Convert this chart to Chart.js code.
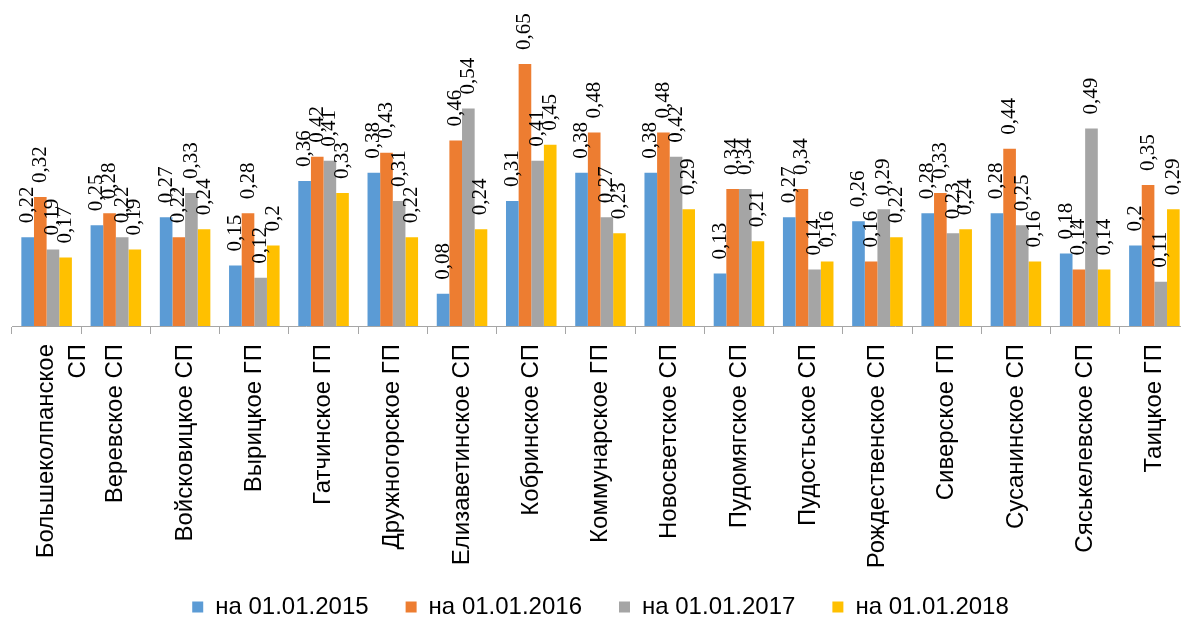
<!DOCTYPE html>
<html>
<head>
<meta charset="utf-8">
<script src="https://cdn.jsdelivr.net/npm/chart.js@4/dist/chart.umd.min.js"></script>
<style>
html,body{margin:0;padding:0;overflow:hidden;background:#ffffff;}
#wrap{position:relative;width:1200px;height:629px;}
</style>
</head>
<body>
<div id="wrap"><canvas id="c"></canvas></div>
<script>
const categories = [
  ["Большеколпанское", "СП"], "Веревское СП", "Войсковицкое СП", "Вырицкое ГП",
  "Гатчинское ГП", "Дружногорское ГП", "Елизаветинское СП", "Кобринское СП",
  "Коммунарское ГП", "Новосветское СП", "Пудомягское СП", "Пудостьское СП",
  "Рождественское СП", "Сиверское ГП", "Сусанинское СП", "Сяськелевское СП", "Таицкое ГП"
];
const seriesNames = ["на 01.01.2015", "на 01.01.2016", "на 01.01.2017", "на 01.01.2018"];
const values2015 = [0.22, 0.25, 0.27, 0.15, 0.36, 0.38, 0.08, 0.31, 0.38, 0.38, 0.13, 0.27, 0.26, 0.28, 0.28, 0.18, 0.2];
const values2016 = [0.32, 0.28, 0.22, 0.28, 0.42, 0.43, 0.46, 0.65, 0.48, 0.48, 0.34, 0.34, 0.16, 0.33, 0.44, 0.14, 0.35];
const values2017 = [0.19, 0.22, 0.33, 0.12, 0.41, 0.31, 0.54, 0.41, 0.27, 0.42, 0.34, 0.14, 0.29, 0.23, 0.25, 0.49, 0.11];
const values2018 = [0.17, 0.19, 0.24, 0.2, 0.33, 0.22, 0.24, 0.45, 0.23, 0.29, 0.21, 0.16, 0.22, 0.24, 0.16, 0.14, 0.29];
const seriesColors = ["#5B9BD5", "#ED7D31", "#A5A5A5", "#FFC000"];

const allSeries = [values2015, values2016, values2017, values2018];

const valueLabels = {
  id: 'valueLabels',
  afterDatasetsDraw(chart) {
    const ctx = chart.ctx;
    ctx.save();
    ctx.font = '21px "Liberation Serif", "Times New Roman", serif';
    ctx.fillStyle = '#000000';
    ctx.textAlign = 'left';
    ctx.textBaseline = 'middle';
    chart.data.datasets.forEach((ds, i) => {
      const meta = chart.getDatasetMeta(i);
      meta.data.forEach((bar, j) => {
        const txt = String(ds.data[j]).replace('.', ',');
        ctx.save();
        ctx.translate(bar.x, bar.y - 14);
        ctx.rotate(-Math.PI / 2);
        ctx.fillText(txt, 0, 0);
        ctx.restore();
      });
    });
    ctx.restore();
  }
};

// let long rotated category labels extend below the axis box (no clipping)
const noLabelClip = {
  id: 'noLabelClip',
  beforeDraw(chart) {
    const sx = chart.scales.x;
    if (sx) { sx._computeLabelArea = function () { return undefined; }; }
  }
};

new Chart(document.getElementById('c'), {
  type: 'bar',
  data: {
    labels: categories,
    datasets: allSeries.map((vals, i) => ({
      label: seriesNames[i],
      data: vals,
      backgroundColor: seriesColors[i],
      borderWidth: 0,
      categoryPercentage: 0.73,
      barPercentage: 1.0
    }))
  },
  options: {
    responsive: true,
    maintainAspectRatio: false,
    animation: false,
    devicePixelRatio: 1,
    layout: { padding: { left: 12, right: 11, top: 3.6, bottom: 0 } },
    scales: {
      x: {
        grid: { display: true, drawOnChartArea: false, drawTicks: true, tickLength: 8, color: '#A6A6A6', offset: true },
        border: { display: true, color: '#A6A6A6' },
        ticks: {
          autoSkip: false,
          minRotation: 90,
          maxRotation: 90,
          padding: 10,
          color: '#000000',
          font: { family: '"Liberation Sans", Arial, sans-serif', size: 24, lineHeight: 1.33 }
        },
        afterFit(scale) { scale.height = 232; }
      },
      y: {
        display: false,
        min: 0,
        max: 0.8
      }
    },
    plugins: {
      legend: {
        position: 'bottom',
        labels: {
          boxWidth: 11,
          boxHeight: 11,
          padding: 37,
          color: '#000000',
          font: { family: '"Liberation Sans", Arial, sans-serif', size: 24 }
        }
      },
      tooltip: { enabled: false },
      title: { display: false }
    }
  },
  plugins: [valueLabels, noLabelClip]
});
</script>
</body>
</html>
